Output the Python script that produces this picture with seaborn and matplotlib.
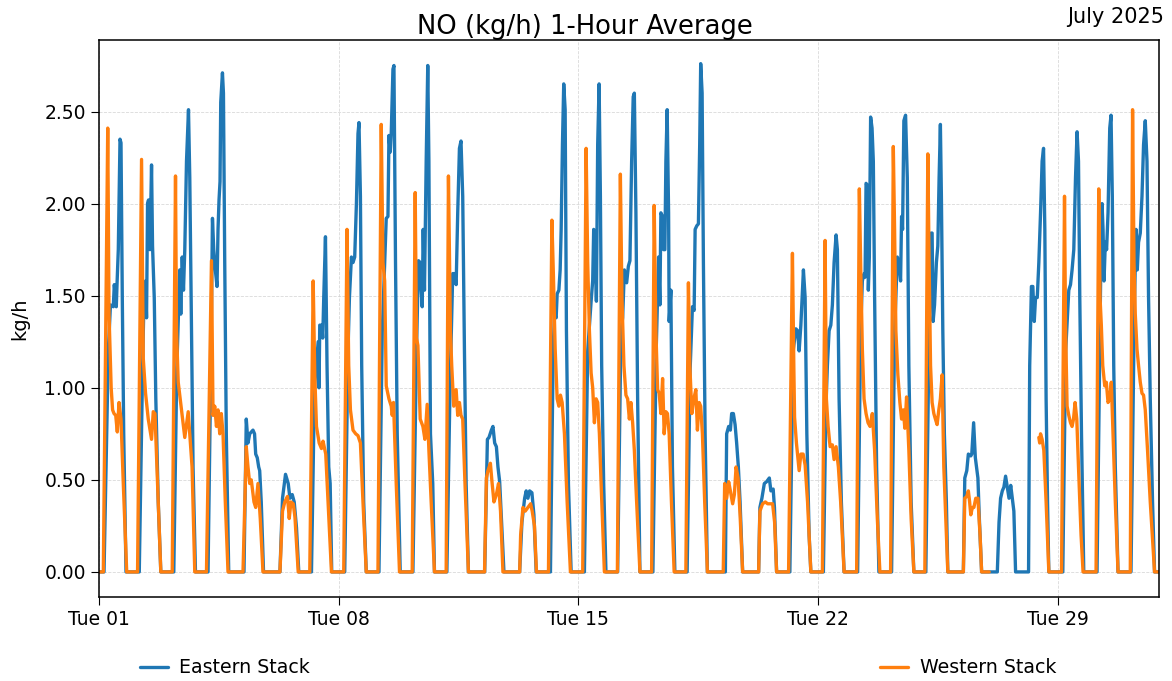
import matplotlib
matplotlib.use("Agg")
import matplotlib.pyplot as plt
import matplotlib.dates as mdates
import pandas as pd
import seaborn as sns

# July 2025, one entry per day
days = pd.date_range("2025-07-01", "2025-07-31", freq="D")

# (hour of day, kg/h), Eastern Stack
east_profile = [
    [(0, 0), (3.5, 0), (6.5, 1.2), (8, 1.45), (10, 1.44), (10.7, 1.56), (12.1, 1.44), (12.6, 1.56), (13.5, 1.75), (14.7, 2.35), (15.4, 2.33), (16.3, 1.49), (17.3, 0.75), (18.9, 0)],
    [(4.2, 0), (6.5, 1.1), (7.7, 1.56), (8.6, 1.58), (9.3, 1.38), (10, 2.0), (10.7, 2.02), (11.7, 1.75), (12.8, 2.21), (13.5, 1.77), (14.7, 1.49), (15.8, 0.94), (17.5, 0.38), (19.3, 0)],
    [(4.4, 0), (6.5, 1.1), (8.6, 1.64), (9.3, 1.40), (10.3, 1.71), (11.2, 1.53), (12.1, 1.75), (13.3, 2.23), (14.7, 2.51), (15.6, 2.14), (16.8, 1.31), (17.9, 0.57), (19.6, 0)],
    [(4.4, 0), (6.5, 1.2), (7.5, 1.92), (8.4, 1.75), (9.5, 1.64), (10.7, 1.55), (11.4, 1.86), (12.1, 2.02), (12.8, 2.12), (13.3, 2.55), (14.5, 2.71), (15.2, 2.6), (16.1, 1.68), (17.2, 0.75), (18.9, 0)],
    [(5.6, 0), (7.2, 0.83), (8.4, 0.70), (9.6, 0.75), (10.7, 0.76), (11.9, 0.77), (13, 0.75), (13.8, 0.64), (14.9, 0.62), (15.9, 0.57), (16.6, 0.55), (17.7, 0.38), (19.3, 0)],
    [(6.8, 0), (8.6, 0.40), (10.7, 0.53), (12.6, 0.48), (13.8, 0.40), (15.4, 0.42), (16.8, 0.38), (18.4, 0.24), (20, 0)],
    [(4.9, 0), (7, 1.0), (9.6, 1.25), (10.2, 1.0), (10.7, 1.34), (12.1, 1.34), (12.8, 1.27), (13.5, 1.49), (14.7, 1.82), (15.8, 1.12), (17, 0.57), (18, 0.48), (19.1, 0)],
    [(4.2, 0), (6.5, 1.2), (7.5, 1.49), (8.9, 1.71), (10, 1.68), (11.2, 1.71), (12.4, 2.0), (13.5, 2.38), (14.2, 2.44), (15.2, 2.04), (16.1, 1.12), (17.5, 0.38), (19.3, 0)],
    [(4.2, 0), (6.5, 1.3), (8.2, 1.68), (9.3, 1.92), (10.5, 1.93), (11.2, 2.37), (12.1, 2.28), (12.8, 2.38), (14, 2.73), (14.7, 2.75), (15.8, 1.68), (17, 0.75), (19.1, 0)],
    [(4, 0), (6.5, 1.2), (7.9, 1.69), (9.1, 1.68), (9.8, 1.53), (10.5, 1.44), (11.2, 1.86), (12.1, 1.53), (13.3, 2.23), (14.4, 2.75), (15.2, 2.23), (16.3, 0.75), (17.9, 0.48), (19.1, 0)],
    [(3.8, 0), (6, 1.0), (7.9, 1.62), (9.1, 1.62), (10.3, 1.56), (11.4, 1.95), (12.6, 2.30), (13.7, 2.34), (14.9, 2.04), (16.1, 1.21), (17.3, 0.48), (18.9, 0)],
    [(6.3, 0), (8.2, 0.72), (9.3, 0.73), (11, 0.77), (12.1, 0.79), (13.3, 0.70), (14.5, 0.68), (15.6, 0.57), (16.8, 0.49), (18, 0.29), (19.8, 0)],
    [(6.8, 0), (8.4, 0.27), (10.3, 0.40), (11.4, 0.44), (12.6, 0.40), (13.8, 0.44), (15.4, 0.43), (16.8, 0.31), (18.4, 0)],
    [(4.4, 0), (6.3, 1.2), (7.2, 1.40), (8.4, 1.38), (9.1, 1.51), (10.3, 1.53), (11.2, 1.64), (11.9, 1.86), (12.8, 2.32), (13.7, 2.65), (14.7, 2.51), (15.6, 1.31), (17, 0.48), (18.9, 0)],
    [(4.2, 0), (6.5, 1.2), (8.9, 1.47), (10, 1.58), (10.7, 1.86), (11.6, 1.84), (12.6, 1.47), (13.5, 2.32), (14.5, 2.65), (15.4, 2.04), (16.3, 1.12), (17.7, 0.48), (19.3, 0)],
    [(3.5, 0), (5.8, 1.3), (7, 1.38), (8.2, 1.64), (9.8, 1.57), (11, 1.66), (12.1, 1.69), (13.3, 2.23), (14.4, 2.58), (15.2, 2.60), (16.3, 1.95), (17.5, 0.94), (19.1, 0)],
    [(4.2, 0), (6.5, 1.2), (8.2, 1.71), (9.1, 1.45), (9.8, 1.95), (11, 1.93), (11.7, 1.75), (12.6, 1.75), (13.3, 2.23), (14.2, 2.51), (15.2, 1.95), (15.6, 1.36), (16.8, 1.53), (17.9, 0.57), (19.6, 0)],
    [(4.2, 0), (6.3, 1.1), (7.9, 1.44), (9.1, 1.42), (9.8, 1.86), (11, 1.88), (12.1, 1.89), (13, 2.32), (13.7, 2.76), (14.7, 2.60), (15.6, 1.68), (16.8, 0.75), (18.4, 0)],
    [(7, 0), (7.9, 0.75), (9.3, 0.79), (10.5, 0.77), (11.4, 0.86), (12.6, 0.86), (13.8, 0.80), (14.9, 0.70), (16.1, 0.57), (17.3, 0.38), (19.1, 0)],
    [(6.3, 0), (7.2, 0.35), (8.6, 0.40), (10.3, 0.48), (11.9, 0.49), (13.8, 0.51), (14.9, 0.44), (16.5, 0.45), (17.4, 0.35), (18.9, 0)],
    [(4.2, 0), (6.5, 1.2), (8.4, 1.32), (9.6, 1.31), (10.7, 1.20), (11.9, 1.34), (13.7, 1.64), (14.9, 1.49), (16.1, 0.75), (17.7, 0.20), (18.9, 0)],
    [(3.7, 0), (5.5, 0.9), (6.5, 1.12), (7.7, 1.31), (8.9, 1.34), (10, 1.45), (11.2, 1.68), (12.6, 1.83), (13.5, 1.75), (14.7, 0.94), (16.3, 0.38), (18.2, 0)],
    [(3.7, 0), (5.8, 1.3), (7, 1.58), (8.2, 1.62), (8.9, 1.60), (9.6, 2.11), (10.5, 2.10), (11.2, 1.53), (11.9, 1.71), (12.8, 2.47), (13.8, 2.41), (14.7, 2.23), (15.6, 1.49), (17, 0.57), (18.6, 0)],
    [(3.5, 0), (5.6, 1.3), (6.5, 1.49), (7.5, 1.71), (8.6, 1.68), (9.8, 1.58), (10.5, 1.93), (11.2, 1.86), (12.1, 2.45), (13.3, 2.48), (14.5, 2.14), (15.6, 1.12), (17.2, 0.38), (19.1, 0)],
    [(3.5, 0), (5.8, 1.3), (7.2, 1.84), (7.9, 1.84), (8.6, 1.36), (9.6, 1.45), (10.9, 1.68), (11.9, 1.77), (12.8, 2.14), (13.7, 2.43), (14.4, 2.04), (15.4, 1.31), (16.5, 0.75), (17.9, 0.38), (18.9, 0)],
    [(5.8, 0), (6.8, 0.51), (8.2, 0.55), (9.3, 0.64), (11, 0.63), (11.7, 0.64), (13, 0.81), (14.2, 0.62), (15, 0.57), (16, 0.51), (17, 0.29), (18.6, 0)],
    [(5.6, 0), (6.8, 0.27), (7.9, 0.40), (9.1, 0.44), (10.2, 0.46), (11.4, 0.52), (12.6, 0.46), (13.8, 0.40), (15, 0.47), (16.1, 0.40), (17.2, 0.33), (18.4, 0)],
    [(3.5, 0), (4.3, 1.12), (5.5, 1.55), (6.5, 1.55), (7.5, 1.36), (8.4, 1.49), (9.6, 1.49), (10.7, 1.68), (11.9, 1.95), (13, 2.23), (14, 2.30), (14.9, 1.86), (15.8, 0.94), (16.8, 0.38), (17.7, 0)],
    [(3.5, 0), (5.5, 1.2), (7.7, 1.53), (8.9, 1.56), (10, 1.64), (11.2, 1.75), (12.4, 2.14), (13.5, 2.39), (14.5, 2.23), (15.4, 1.49), (16.6, 0.75), (18.2, 0)],
    [(3.5, 0), (5.6, 1.31), (6.5, 1.9), (7, 2.0), (7.7, 1.86), (8.4, 1.58), (9.3, 1.79), (10.2, 1.75), (11.2, 1.95), (12.4, 2.41), (13.3, 2.48), (14.2, 2.04), (15.2, 1.12), (16.3, 0.57), (18.2, 0)],
    [(3.3, 0), (5.6, 1.4), (6.8, 1.86), (7.7, 1.64), (8.6, 1.79), (9.8, 1.84), (11, 2.04), (12.1, 2.32), (13.3, 2.45), (14.5, 2.23), (15.6, 1.49), (16.8, 0.94), (18.4, 0.38), (19.8, 0), (23, 0)],
]

# (hour of day, kg/h), Western Stack -- no data from Jul 27 to mid Jul 28
west_profile = [
    [(0, 0), (3, 0), (6.1, 2.41), (7, 1.4), (8.5, 1.0), (9.5, 0.88), (10.5, 0.86), (11.7, 0.85), (12.8, 0.76), (14, 0.92), (15.4, 0.83), (17, 0.48), (19.4, 0)],
    [(3, 0), (5.8, 2.24), (7, 1.16), (8.6, 0.97), (10.5, 0.83), (12.8, 0.72), (14, 0.87), (15.2, 0.86), (17.5, 0.38), (19.3, 0)],
    [(3.3, 0), (5.6, 2.15), (6.3, 1.31), (7.5, 1.03), (9.8, 0.88), (12.1, 0.73), (14.5, 0.87), (15.6, 0.75), (17.2, 0.57), (19.1, 0)],
    [(3.3, 0), (6.8, 1.69), (7.9, 0.85), (9.1, 0.90), (10.3, 0.79), (11.4, 0.88), (12.6, 0.75), (13.7, 0.86), (14.9, 0.75), (16.5, 0.38), (18.4, 0)],
    [(4.9, 0), (7.2, 0.68), (8.4, 0.57), (9.6, 0.48), (10.7, 0.50), (12.6, 0.38), (13.8, 0.35), (15.4, 0.48), (17, 0.29), (18.9, 0)],
    [(6.8, 0), (8.6, 0.33), (10.2, 0.38), (12.1, 0.41), (13.3, 0.29), (14.5, 0.38), (16.1, 0.37), (17.3, 0.30), (19.6, 0)],
    [(3.7, 0), (6.1, 1.58), (7.2, 1.07), (8.4, 0.79), (10.3, 0.70), (11.9, 0.67), (13, 0.71), (14.9, 0.64), (16.5, 0.38), (18.9, 0)],
    [(3.5, 0), (5.8, 1.86), (7, 1.12), (8.2, 0.88), (10, 0.77), (11.9, 0.75), (13.5, 0.74), (15.2, 0.70), (17, 0.38), (19.3, 0)],
    [(3.5, 0), (5.8, 2.43), (7, 1.68), (8.2, 1.58), (9.3, 1.01), (11.2, 0.94), (12.8, 0.90), (13.5, 0.85), (14.4, 0.92), (16.3, 0.48), (18.6, 0)],
    [(3.5, 0), (5.6, 2.06), (6.5, 1.27), (7.5, 1.23), (9.1, 0.83), (11, 0.79), (12.4, 0.72), (14, 0.91), (15.2, 0.66), (16.8, 0.38), (19.1, 0)],
    [(3.3, 0), (4.9, 2.15), (6.3, 1.31), (7.2, 1.12), (8.6, 0.90), (10.3, 0.99), (11.4, 0.85), (12.6, 0.92), (13.7, 0.85), (14.9, 0.83), (16.5, 0.48), (18.9, 0)],
    [(6.2, 0), (7.5, 0.51), (8.6, 0.55), (10.3, 0.59), (11.4, 0.49), (12.8, 0.38), (14.5, 0.42), (16, 0.48), (17.4, 0.33), (19.1, 0)],
    [(6.8, 0), (7.5, 0.20), (9.1, 0.35), (10.7, 0.33), (12.6, 0.35), (14.5, 0.37), (15.6, 0.33), (17.2, 0.25), (18.6, 0)],
    [(3, 0), (5.4, 1.91), (6.5, 1.60), (7.7, 1.21), (9.1, 0.94), (10.3, 0.90), (11.4, 0.96), (12.6, 0.92), (14.2, 0.75), (16.1, 0.38), (18.4, 0)],
    [(3, 0), (5.4, 2.30), (6.5, 1.68), (7.7, 1.31), (8.9, 1.08), (10, 1.0), (11.2, 0.81), (12.4, 0.94), (13.5, 0.92), (14.7, 0.75), (15.9, 0.48), (18.2, 0)],
    [(3.3, 0), (5.4, 2.16), (6.5, 1.49), (7.9, 1.12), (9.3, 0.96), (10.5, 0.94), (11.7, 0.83), (12.8, 0.92), (14, 0.81), (15.2, 0.66), (16.8, 0.38), (19.1, 0)],
    [(3.3, 0), (5.1, 1.99), (6.3, 1.31), (7.5, 0.99), (8.6, 0.97), (9.8, 0.86), (11, 1.05), (12.1, 0.75), (13.3, 0.87), (14.4, 0.86), (15.6, 0.75), (17.2, 0.38), (19.1, 0)],
    [(3.3, 0), (5.1, 1.57), (6.1, 1.12), (7.5, 0.86), (8.9, 0.94), (10.3, 0.99), (11.4, 0.77), (12.6, 0.92), (13.7, 0.90), (14.9, 0.75), (16.5, 0.38), (18.4, 0)],
    [(5.5, 0), (6.5, 0.48), (7.9, 0.40), (9.3, 0.49), (10.5, 0.44), (12.1, 0.37), (13.3, 0.42), (14.5, 0.57), (15.9, 0.51), (17.3, 0.31), (19.1, 0)],
    [(6.3, 0), (7.2, 0.33), (9.1, 0.37), (11, 0.38), (12.6, 0.37), (14.2, 0.37), (16.1, 0.37), (17.5, 0.27), (18.9, 0)],
    [(3.3, 0), (6, 1.73), (7, 1.1), (7.5, 0.84), (8.8, 0.70), (10.7, 0.55), (11.9, 0.64), (13.5, 0.64), (14.9, 0.58), (16.6, 0.38), (18.9, 0)],
    [(3, 0), (4.9, 1.80), (5.8, 0.94), (7, 0.79), (8.4, 0.68), (10, 0.69), (11.2, 0.61), (12.6, 0.68), (14.2, 0.57), (15.8, 0.38), (18.2, 0)],
    [(3, 0), (4.9, 2.08), (5.8, 1.68), (7, 1.21), (8.2, 0.94), (9.6, 0.86), (11, 0.81), (12.4, 0.79), (14, 0.86), (15.6, 0.66), (17.5, 0.29), (19.3, 0)],
    [(2.8, 0), (4.7, 2.31), (5.6, 1.86), (6.5, 1.31), (7.9, 1.07), (9.3, 0.92), (10.5, 0.83), (11.7, 0.88), (12.8, 0.78), (14, 0.95), (15.6, 0.66), (17.2, 0.29), (19.1, 0)],
    [(2.8, 0), (4.9, 2.27), (5.8, 1.68), (6.8, 1.12), (7.9, 0.92), (9.1, 0.86), (10.2, 0.83), (11.4, 0.80), (12.6, 0.88), (13.7, 0.94), (14.9, 1.07), (16.1, 0.57), (17.9, 0.20), (18.9, 0)],
    [(5.8, 0), (6.8, 0.40), (8.2, 0.41), (9.3, 0.44), (10.2, 0.38), (11, 0.31), (12.1, 0.35), (13.2, 0.35), (14.5, 0.40), (16, 0.40), (17.5, 0.20), (18.6, 0), (23.9, 0)],
    [],
    [(10.7, 0.73), (11.3, 0.70), (11.9, 0.75), (13, 0.72), (14.2, 0.66), (15.8, 0.38), (17.7, 0)],
    [(2.6, 0), (4.7, 2.04), (5.4, 1.34), (6.5, 0.90), (7.7, 0.85), (8.9, 0.81), (10, 0.79), (11, 0.83), (12.1, 0.92), (13.3, 0.83), (14.5, 0.57), (16.3, 0.20), (17.7, 0)],
    [(2.8, 0), (4.7, 2.08), (5.6, 1.49), (6.5, 1.34), (7.5, 1.12), (8.9, 1.01), (10, 1.03), (11.2, 0.92), (12.4, 0.94), (13.5, 1.03), (14.7, 0.75), (16.3, 0.38), (18.2, 0)],
    [(2.8, 0), (4.4, 2.51), (5.4, 1.68), (6.3, 1.40), (7.5, 1.21), (8.6, 1.12), (9.8, 1.03), (11, 0.97), (12.1, 0.96), (13.3, 0.88), (14.9, 0.66), (16.8, 0.38), (19.8, 0), (23, 0)],
]

stack_names = ["Eastern Stack", "Western Stack"]
stack_colors = ["#1f77b4", "#ff7f0e"]

rows = []
for name, profile in zip(stack_names, [east_profile, west_profile]):
    seg = 0
    last = None
    for day, pts in zip(days, profile):
        for h, v in pts:
            t = day + pd.Timedelta(hours=h)
            if last is not None and t - last > pd.Timedelta(hours=24):
                seg += 1  # break the line over missing data
            rows.append((name, f"{name}-{seg}", t, v))
            last = t
df = pd.DataFrame(rows, columns=["stack", "segment", "time", "kgh"])

sns.set_style("ticks")
plt.rcParams["font.family"] = ["DejaVu Sans"]
plt.rcParams["text.color"] = "black"
plt.rcParams["axes.labelcolor"] = "black"
plt.rcParams["xtick.color"] = "black"
plt.rcParams["ytick.color"] = "black"

fig, ax = plt.subplots(figsize=(11.72, 6.81), dpi=100)
fig.subplots_adjust(left=0.0845, right=0.989, top=0.941, bottom=0.123)

sns.lineplot(data=df, x="time", y="kgh", hue="stack", units="segment",
             estimator=None, palette=dict(zip(stack_names, stack_colors)),
             linewidth=2.4, ax=ax)

ax.set_xlim(pd.Timestamp("2025-07-01 00:00"), pd.Timestamp("2025-07-31 23:00"))
ax.set_ylim(-0.1375, 2.8875)
ax.set_yticks([0, 0.5, 1.0, 1.5, 2.0, 2.5])
ax.yaxis.set_major_formatter(matplotlib.ticker.FormatStrFormatter("%.2f"))
ax.xaxis.set_major_locator(mdates.WeekdayLocator(byweekday=mdates.TU))
ax.xaxis.set_major_formatter(mdates.DateFormatter("%a %d"))
ax.tick_params(labelsize=13.5, length=6)
ax.grid(True, linestyle="--", linewidth=0.6, color="#d0d0d0", alpha=0.8)
for sp in ax.spines.values():
    sp.set_color("black")
    sp.set_linewidth(1.1)

ax.set_xlabel("")
ax.set_ylabel("kg/h", fontsize=14)
ax.yaxis.set_label_coords(-0.066, 0.5)
fig.suptitle("NO (kg/h) 1-Hour Average", fontsize=18.6, x=0.499, y=0.979)
fig.text(0.993, 0.99, "July 2025", ha="right", va="top", fontsize=15)

handles, labels = ax.get_legend_handles_labels()
ax.legend(handles, labels, loc="center", bbox_to_anchor=(0.031, -0.127, 0.879, 0),
          mode="expand", ncol=2, frameon=False, fontsize=13.7, borderaxespad=0,
          handlelength=1.5, handletextpad=0.6)

fig.savefig("out.png", dpi=100)
